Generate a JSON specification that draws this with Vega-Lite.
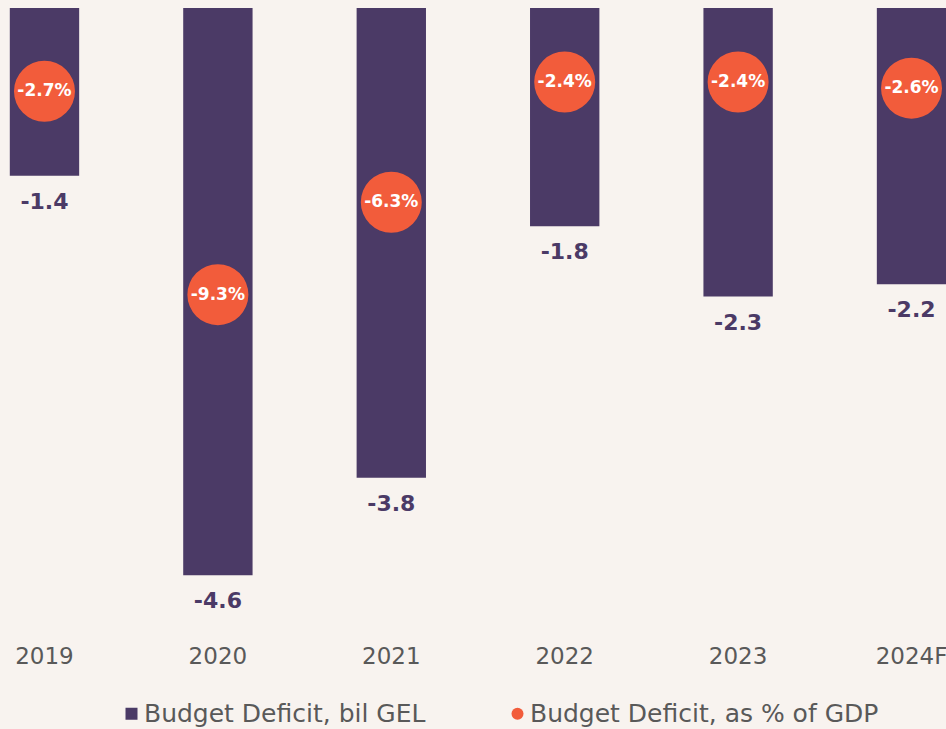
{
  "$schema": "https://vega.github.io/schema/vega-lite/v6.json",
  "width": 946,
  "height": 616.5,
  "padding": {"left": 0, "top": 8, "right": 0, "bottom": 104.5},
  "autosize": {"type": "none"},
  "background": "#F8F3EF",
  "config": {"view": {"stroke": null}, "font": "DejaVu Sans", "text": {"font": "DejaVu Sans"}},
  "data": {
    "values": [
      {"year": "2019", "bil": -1.36, "bilLabel": "-1.4", "pct": -2.7, "pctLabel": "-2.7%"},
      {"year": "2020", "bil": -4.6, "bilLabel": "-4.6", "pct": -9.3, "pctLabel": "-9.3%"},
      {"year": "2021", "bil": -3.81, "bilLabel": "-3.8", "pct": -6.3, "pctLabel": "-6.3%"},
      {"year": "2022", "bil": -1.77, "bilLabel": "-1.8", "pct": -2.4, "pctLabel": "-2.4%"},
      {"year": "2023", "bil": -2.34, "bilLabel": "-2.3", "pct": -2.4, "pctLabel": "-2.4%"},
      {"year": "2024F", "bil": -2.24, "bilLabel": "-2.2", "pct": -2.6, "pctLabel": "-2.6%"}
    ]
  },
  "encoding": {
    "x": {
      "field": "year",
      "type": "nominal",
      "sort": null,
      "scale": {"paddingInner": 0.6, "paddingOuter": 0.0565, "range": [0, 956]},
      "axis": {
        "title": null,
        "labelAngle": 0,
        "domain": false,
        "ticks": false,
        "tickSize": 0,
        "grid": false,
        "labelPadding": 21,
        "labelFontSize": 23,
        "labelColor": "#595959",
        "labelFont": "DejaVu Sans",
        "labelOverlap": false,
        "labelBound": false
      }
    }
  },
  "layer": [
    {
      "mark": {"type": "bar"},
      "encoding": {
        "y": {"field": "bil", "type": "quantitative", "scale": {"domain": [-5, 0]}, "axis": null},
        "color": {
          "datum": "Budget Deficit, bil GEL",
          "type": "nominal",
          "scale": {
            "domain": ["Budget Deficit, bil GEL", "Budget Deficit, as % of GDP"],
            "range": ["#4B3A66", "#F25C3B"]
          },
          "legend": {
            "orient": "none",
            "legendX": 119,
            "legendY": 693,
            "direction": "horizontal",
            "title": null,
            "padding": 0,
            "symbolSize": 144,
            "symbolStrokeWidth": 0,
            "labelFontSize": 25,
            "labelFont": "DejaVu Sans",
            "labelColor": "#595959",
            "labelOffset": 0,
            "columnPadding": 79,
            "labelLimit": 500,
            "encode": {
              "symbols": {
                "update": {
                  "shape": {"signal": "datum.value === 'Budget Deficit, bil GEL' ? 'square' : 'circle'"}
                }
              }
            }
          }
        }
      }
    },
    {
      "mark": {"type": "text", "baseline": "middle", "dy": 26, "fontSize": 22, "fontWeight": "bold", "color": "#4B3A66"},
      "encoding": {
        "y": {"field": "bil", "type": "quantitative", "scale": {"domain": [-5, 0]}, "axis": null},
        "text": {"field": "bilLabel"}
      }
    },
    {
      "mark": {"type": "point", "filled": true, "opacity": 1, "size": 3721},
      "encoding": {
        "y": {"field": "pct", "type": "quantitative", "scale": {"domain": [-20, 0]}, "axis": null},
        "color": {"datum": "Budget Deficit, as % of GDP", "type": "nominal"}
      }
    },
    {
      "mark": {"type": "text", "baseline": "middle", "fontSize": 17, "fontWeight": "bold", "color": "#FFFFFF"},
      "encoding": {
        "y": {"field": "pct", "type": "quantitative", "scale": {"domain": [-20, 0]}, "axis": null},
        "text": {"field": "pctLabel"}
      }
    }
  ],
  "resolve": {"scale": {"y": "independent"}}
}
